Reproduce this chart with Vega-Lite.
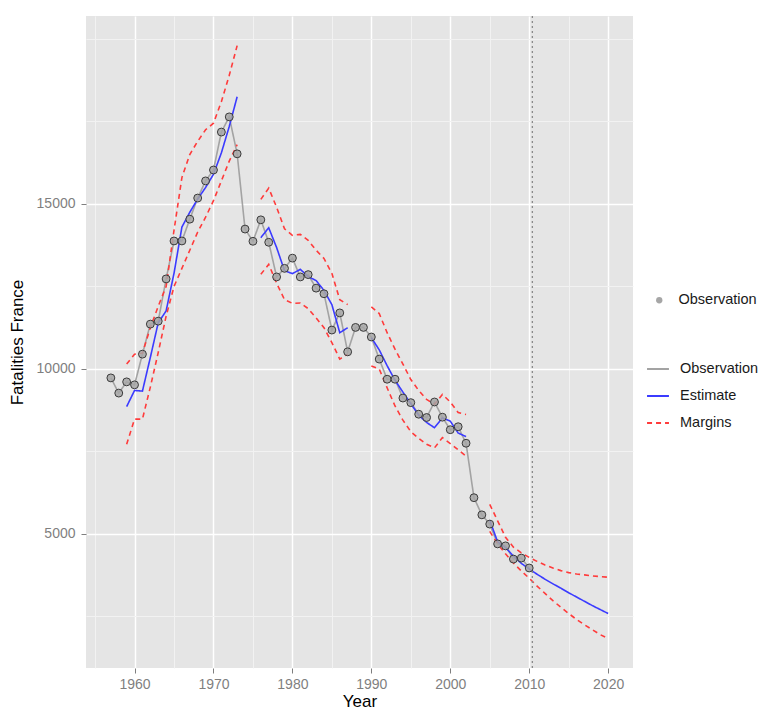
{
  "$schema": "https://vega.github.io/schema/vega-lite/v6.json",
  "width": 547,
  "height": 652,
  "padding": {"left": 8, "top": 15, "right": 0, "bottom": 0},
  "background": "white",
  "config": {
    "view": {"fill": "#E5E5E5", "stroke": null},
    "font": "Liberation Sans",
    "axis": {
      "domain": false,
      "grid": true,
      "tickColor": "#7F7F7F",
      "tickSize": 5,
      "labelColor": "#7F7F7F",
      "labelFont": "Liberation Sans",
      "labelFontSize": 14,
      "titleFont": "Liberation Sans",
      "titleFontSize": 17,
      "titleFontWeight": "normal",
      "titleColor": "black",
      "gridColor": "white",
      "gridWidth": 1.5
    },
    "legend": {
      "labelFont": "Liberation Sans",
      "labelFontSize": 14.5,
      "labelColor": "#1A1A1A"
    }
  },
  "datasets": {
    "d": [
      {"year": 1957, "value": 9730, "series": "Observation", "grp": "obs"},
      {"year": 1958, "value": 9270, "series": "Observation", "grp": "obs"},
      {"year": 1959, "value": 9610, "series": "Observation", "grp": "obs"},
      {"year": 1960, "value": 9520, "series": "Observation", "grp": "obs"},
      {"year": 1961, "value": 10450, "series": "Observation", "grp": "obs"},
      {"year": 1962, "value": 11360, "series": "Observation", "grp": "obs"},
      {"year": 1963, "value": 11450, "series": "Observation", "grp": "obs"},
      {"year": 1964, "value": 12730, "series": "Observation", "grp": "obs"},
      {"year": 1965, "value": 13880, "series": "Observation", "grp": "obs"},
      {"year": 1966, "value": 13880, "series": "Observation", "grp": "obs"},
      {"year": 1967, "value": 14540, "series": "Observation", "grp": "obs"},
      {"year": 1968, "value": 15180, "series": "Observation", "grp": "obs"},
      {"year": 1969, "value": 15700, "series": "Observation", "grp": "obs"},
      {"year": 1970, "value": 16030, "series": "Observation", "grp": "obs"},
      {"year": 1971, "value": 17180, "series": "Observation", "grp": "obs"},
      {"year": 1972, "value": 17640, "series": "Observation", "grp": "obs"},
      {"year": 1973, "value": 16520, "series": "Observation", "grp": "obs"},
      {"year": 1974, "value": 14240, "series": "Observation", "grp": "obs"},
      {"year": 1975, "value": 13870, "series": "Observation", "grp": "obs"},
      {"year": 1976, "value": 14520, "series": "Observation", "grp": "obs"},
      {"year": 1977, "value": 13840, "series": "Observation", "grp": "obs"},
      {"year": 1978, "value": 12790, "series": "Observation", "grp": "obs"},
      {"year": 1979, "value": 13050, "series": "Observation", "grp": "obs"},
      {"year": 1980, "value": 13360, "series": "Observation", "grp": "obs"},
      {"year": 1981, "value": 12790, "series": "Observation", "grp": "obs"},
      {"year": 1982, "value": 12860, "series": "Observation", "grp": "obs"},
      {"year": 1983, "value": 12450, "series": "Observation", "grp": "obs"},
      {"year": 1984, "value": 12280, "series": "Observation", "grp": "obs"},
      {"year": 1985, "value": 11180, "series": "Observation", "grp": "obs"},
      {"year": 1986, "value": 11700, "series": "Observation", "grp": "obs"},
      {"year": 1987, "value": 10520, "series": "Observation", "grp": "obs"},
      {"year": 1988, "value": 11260, "series": "Observation", "grp": "obs"},
      {"year": 1989, "value": 11260, "series": "Observation", "grp": "obs"},
      {"year": 1990, "value": 10970, "series": "Observation", "grp": "obs"},
      {"year": 1991, "value": 10300, "series": "Observation", "grp": "obs"},
      {"year": 1992, "value": 9690, "series": "Observation", "grp": "obs"},
      {"year": 1993, "value": 9690, "series": "Observation", "grp": "obs"},
      {"year": 1994, "value": 9120, "series": "Observation", "grp": "obs"},
      {"year": 1995, "value": 8980, "series": "Observation", "grp": "obs"},
      {"year": 1996, "value": 8630, "series": "Observation", "grp": "obs"},
      {"year": 1997, "value": 8530, "series": "Observation", "grp": "obs"},
      {"year": 1998, "value": 9000, "series": "Observation", "grp": "obs"},
      {"year": 1999, "value": 8540, "series": "Observation", "grp": "obs"},
      {"year": 2000, "value": 8160, "series": "Observation", "grp": "obs"},
      {"year": 2001, "value": 8250, "series": "Observation", "grp": "obs"},
      {"year": 2002, "value": 7750, "series": "Observation", "grp": "obs"},
      {"year": 2003, "value": 6100, "series": "Observation", "grp": "obs"},
      {"year": 2004, "value": 5580, "series": "Observation", "grp": "obs"},
      {"year": 2005, "value": 5300, "series": "Observation", "grp": "obs"},
      {"year": 2006, "value": 4700, "series": "Observation", "grp": "obs"},
      {"year": 2007, "value": 4640, "series": "Observation", "grp": "obs"},
      {"year": 2008, "value": 4240, "series": "Observation", "grp": "obs"},
      {"year": 2009, "value": 4270, "series": "Observation", "grp": "obs"},
      {"year": 2010, "value": 3970, "series": "Observation", "grp": "obs"},

      {"year": 1959, "value": 8860, "series": "Estimate", "grp": "E1"},
      {"year": 1960, "value": 9350, "series": "Estimate", "grp": "E1"},
      {"year": 1961, "value": 9330, "series": "Estimate", "grp": "E1"},
      {"year": 1962, "value": 10350, "series": "Estimate", "grp": "E1"},
      {"year": 1963, "value": 11400, "series": "Estimate", "grp": "E1"},
      {"year": 1964, "value": 11760, "series": "Estimate", "grp": "E1"},
      {"year": 1965, "value": 12900, "series": "Estimate", "grp": "E1"},
      {"year": 1966, "value": 14300, "series": "Estimate", "grp": "E1"},
      {"year": 1967, "value": 14750, "series": "Estimate", "grp": "E1"},
      {"year": 1968, "value": 15150, "series": "Estimate", "grp": "E1"},
      {"year": 1969, "value": 15500, "series": "Estimate", "grp": "E1"},
      {"year": 1970, "value": 15900, "series": "Estimate", "grp": "E1"},
      {"year": 1971, "value": 16550, "series": "Estimate", "grp": "E1"},
      {"year": 1972, "value": 17350, "series": "Estimate", "grp": "E1"},
      {"year": 1973, "value": 18250, "series": "Estimate", "grp": "E1"},

      {"year": 1976, "value": 13980, "series": "Estimate", "grp": "E2"},
      {"year": 1977, "value": 14280, "series": "Estimate", "grp": "E2"},
      {"year": 1978, "value": 13680, "series": "Estimate", "grp": "E2"},
      {"year": 1979, "value": 12980, "series": "Estimate", "grp": "E2"},
      {"year": 1980, "value": 12890, "series": "Estimate", "grp": "E2"},
      {"year": 1981, "value": 13020, "series": "Estimate", "grp": "E2"},
      {"year": 1982, "value": 12800, "series": "Estimate", "grp": "E2"},
      {"year": 1983, "value": 12680, "series": "Estimate", "grp": "E2"},
      {"year": 1984, "value": 12380, "series": "Estimate", "grp": "E2"},
      {"year": 1985, "value": 11950, "series": "Estimate", "grp": "E2"},
      {"year": 1986, "value": 11100, "series": "Estimate", "grp": "E2"},
      {"year": 1987, "value": 11250, "series": "Estimate", "grp": "E2"},

      {"year": 1990, "value": 10950, "series": "Estimate", "grp": "E3"},
      {"year": 1991, "value": 10580, "series": "Estimate", "grp": "E3"},
      {"year": 1992, "value": 10100, "series": "Estimate", "grp": "E3"},
      {"year": 1993, "value": 9660, "series": "Estimate", "grp": "E3"},
      {"year": 1994, "value": 9300, "series": "Estimate", "grp": "E3"},
      {"year": 1995, "value": 8950, "series": "Estimate", "grp": "E3"},
      {"year": 1996, "value": 8600, "series": "Estimate", "grp": "E3"},
      {"year": 1997, "value": 8380, "series": "Estimate", "grp": "E3"},
      {"year": 1998, "value": 8220, "series": "Estimate", "grp": "E3"},
      {"year": 1999, "value": 8520, "series": "Estimate", "grp": "E3"},
      {"year": 2000, "value": 8420, "series": "Estimate", "grp": "E3"},
      {"year": 2001, "value": 8060, "series": "Estimate", "grp": "E3"},
      {"year": 2002, "value": 7950, "series": "Estimate", "grp": "E3"},

      {"year": 2005, "value": 5420, "series": "Estimate", "grp": "E4"},
      {"year": 2006, "value": 4760, "series": "Estimate", "grp": "E4"},
      {"year": 2007, "value": 4590, "series": "Estimate", "grp": "E4"},
      {"year": 2008, "value": 4330, "series": "Estimate", "grp": "E4"},
      {"year": 2009, "value": 4110, "series": "Estimate", "grp": "E4"},
      {"year": 2010, "value": 3940, "series": "Estimate", "grp": "E4"},
      {"year": 2011, "value": 3780, "series": "Estimate", "grp": "E4"},
      {"year": 2012, "value": 3630, "series": "Estimate", "grp": "E4"},
      {"year": 2013, "value": 3490, "series": "Estimate", "grp": "E4"},
      {"year": 2014, "value": 3360, "series": "Estimate", "grp": "E4"},
      {"year": 2015, "value": 3220, "series": "Estimate", "grp": "E4"},
      {"year": 2016, "value": 3090, "series": "Estimate", "grp": "E4"},
      {"year": 2017, "value": 2960, "series": "Estimate", "grp": "E4"},
      {"year": 2018, "value": 2830, "series": "Estimate", "grp": "E4"},
      {"year": 2019, "value": 2710, "series": "Estimate", "grp": "E4"},
      {"year": 2020, "value": 2590, "series": "Estimate", "grp": "E4"},

      {"year": 1959, "value": 10150, "series": "Margins", "grp": "U1"},
      {"year": 1960, "value": 10450, "series": "Margins", "grp": "U1"},
      {"year": 1961, "value": 10480, "series": "Margins", "grp": "U1"},
      {"year": 1962, "value": 11250, "series": "Margins", "grp": "U1"},
      {"year": 1963, "value": 11900, "series": "Margins", "grp": "U1"},
      {"year": 1964, "value": 12500, "series": "Margins", "grp": "U1"},
      {"year": 1965, "value": 14200, "series": "Margins", "grp": "U1"},
      {"year": 1966, "value": 15800, "series": "Margins", "grp": "U1"},
      {"year": 1967, "value": 16500, "series": "Margins", "grp": "U1"},
      {"year": 1968, "value": 16900, "series": "Margins", "grp": "U1"},
      {"year": 1969, "value": 17250, "series": "Margins", "grp": "U1"},
      {"year": 1970, "value": 17450, "series": "Margins", "grp": "U1"},
      {"year": 1971, "value": 18100, "series": "Margins", "grp": "U1"},
      {"year": 1972, "value": 18900, "series": "Margins", "grp": "U1"},
      {"year": 1973, "value": 19800, "series": "Margins", "grp": "U1"},

      {"year": 1959, "value": 7720, "series": "Margins", "grp": "L1"},
      {"year": 1960, "value": 8480, "series": "Margins", "grp": "L1"},
      {"year": 1961, "value": 8480, "series": "Margins", "grp": "L1"},
      {"year": 1962, "value": 9450, "series": "Margins", "grp": "L1"},
      {"year": 1963, "value": 10500, "series": "Margins", "grp": "L1"},
      {"year": 1964, "value": 11600, "series": "Margins", "grp": "L1"},
      {"year": 1965, "value": 12500, "series": "Margins", "grp": "L1"},
      {"year": 1966, "value": 13050, "series": "Margins", "grp": "L1"},
      {"year": 1967, "value": 13600, "series": "Margins", "grp": "L1"},
      {"year": 1968, "value": 14150, "series": "Margins", "grp": "L1"},
      {"year": 1969, "value": 14600, "series": "Margins", "grp": "L1"},
      {"year": 1970, "value": 15100, "series": "Margins", "grp": "L1"},
      {"year": 1971, "value": 15700, "series": "Margins", "grp": "L1"},
      {"year": 1972, "value": 16300, "series": "Margins", "grp": "L1"},
      {"year": 1973, "value": 16800, "series": "Margins", "grp": "L1"},

      {"year": 1976, "value": 15140, "series": "Margins", "grp": "U2"},
      {"year": 1977, "value": 15480, "series": "Margins", "grp": "U2"},
      {"year": 1978, "value": 14900, "series": "Margins", "grp": "U2"},
      {"year": 1979, "value": 14250, "series": "Margins", "grp": "U2"},
      {"year": 1980, "value": 14050, "series": "Margins", "grp": "U2"},
      {"year": 1981, "value": 14080, "series": "Margins", "grp": "U2"},
      {"year": 1982, "value": 13900, "series": "Margins", "grp": "U2"},
      {"year": 1983, "value": 13600, "series": "Margins", "grp": "U2"},
      {"year": 1984, "value": 13350, "series": "Margins", "grp": "U2"},
      {"year": 1985, "value": 12900, "series": "Margins", "grp": "U2"},
      {"year": 1986, "value": 12100, "series": "Margins", "grp": "U2"},
      {"year": 1987, "value": 11950, "series": "Margins", "grp": "U2"},

      {"year": 1976, "value": 12870, "series": "Margins", "grp": "L2"},
      {"year": 1977, "value": 13170, "series": "Margins", "grp": "L2"},
      {"year": 1978, "value": 12600, "series": "Margins", "grp": "L2"},
      {"year": 1979, "value": 12100, "series": "Margins", "grp": "L2"},
      {"year": 1980, "value": 11990, "series": "Margins", "grp": "L2"},
      {"year": 1981, "value": 12000, "series": "Margins", "grp": "L2"},
      {"year": 1982, "value": 11830, "series": "Margins", "grp": "L2"},
      {"year": 1983, "value": 11550, "series": "Margins", "grp": "L2"},
      {"year": 1984, "value": 11250, "series": "Margins", "grp": "L2"},
      {"year": 1985, "value": 10800, "series": "Margins", "grp": "L2"},
      {"year": 1986, "value": 10300, "series": "Margins", "grp": "L2"},
      {"year": 1987, "value": 10450, "series": "Margins", "grp": "L2"},

      {"year": 1990, "value": 11880, "series": "Margins", "grp": "U3"},
      {"year": 1991, "value": 11680, "series": "Margins", "grp": "U3"},
      {"year": 1992, "value": 11100, "series": "Margins", "grp": "U3"},
      {"year": 1993, "value": 10600, "series": "Margins", "grp": "U3"},
      {"year": 1994, "value": 10150, "series": "Margins", "grp": "U3"},
      {"year": 1995, "value": 9680, "series": "Margins", "grp": "U3"},
      {"year": 1996, "value": 9350, "series": "Margins", "grp": "U3"},
      {"year": 1997, "value": 9080, "series": "Margins", "grp": "U3"},
      {"year": 1998, "value": 8930, "series": "Margins", "grp": "U3"},
      {"year": 1999, "value": 9230, "series": "Margins", "grp": "U3"},
      {"year": 2000, "value": 9000, "series": "Margins", "grp": "U3"},
      {"year": 2001, "value": 8680, "series": "Margins", "grp": "U3"},
      {"year": 2002, "value": 8620, "series": "Margins", "grp": "U3"},

      {"year": 1990, "value": 10090, "series": "Margins", "grp": "L3"},
      {"year": 1991, "value": 10000, "series": "Margins", "grp": "L3"},
      {"year": 1992, "value": 9430, "series": "Margins", "grp": "L3"},
      {"year": 1993, "value": 8880, "series": "Margins", "grp": "L3"},
      {"year": 1994, "value": 8450, "series": "Margins", "grp": "L3"},
      {"year": 1995, "value": 8100, "series": "Margins", "grp": "L3"},
      {"year": 1996, "value": 7900, "series": "Margins", "grp": "L3"},
      {"year": 1997, "value": 7720, "series": "Margins", "grp": "L3"},
      {"year": 1998, "value": 7610, "series": "Margins", "grp": "L3"},
      {"year": 1999, "value": 7920, "series": "Margins", "grp": "L3"},
      {"year": 2000, "value": 7740, "series": "Margins", "grp": "L3"},
      {"year": 2001, "value": 7550, "series": "Margins", "grp": "L3"},
      {"year": 2002, "value": 7360, "series": "Margins", "grp": "L3"},

      {"year": 2005, "value": 5900, "series": "Margins", "grp": "U4"},
      {"year": 2006, "value": 5400, "series": "Margins", "grp": "U4"},
      {"year": 2007, "value": 4900, "series": "Margins", "grp": "U4"},
      {"year": 2008, "value": 4600, "series": "Margins", "grp": "U4"},
      {"year": 2009, "value": 4430, "series": "Margins", "grp": "U4"},
      {"year": 2010, "value": 4290, "series": "Margins", "grp": "U4"},
      {"year": 2011, "value": 4170, "series": "Margins", "grp": "U4"},
      {"year": 2012, "value": 4060, "series": "Margins", "grp": "U4"},
      {"year": 2013, "value": 3970, "series": "Margins", "grp": "U4"},
      {"year": 2014, "value": 3890, "series": "Margins", "grp": "U4"},
      {"year": 2015, "value": 3830, "series": "Margins", "grp": "U4"},
      {"year": 2016, "value": 3790, "series": "Margins", "grp": "U4"},
      {"year": 2017, "value": 3760, "series": "Margins", "grp": "U4"},
      {"year": 2018, "value": 3730, "series": "Margins", "grp": "U4"},
      {"year": 2019, "value": 3710, "series": "Margins", "grp": "U4"},
      {"year": 2020, "value": 3690, "series": "Margins", "grp": "U4"},

      {"year": 2005, "value": 5080, "series": "Margins", "grp": "L4"},
      {"year": 2006, "value": 4700, "series": "Margins", "grp": "L4"},
      {"year": 2007, "value": 4400, "series": "Margins", "grp": "L4"},
      {"year": 2008, "value": 4120, "series": "Margins", "grp": "L4"},
      {"year": 2009, "value": 3880, "series": "Margins", "grp": "L4"},
      {"year": 2010, "value": 3660, "series": "Margins", "grp": "L4"},
      {"year": 2011, "value": 3420, "series": "Margins", "grp": "L4"},
      {"year": 2012, "value": 3200, "series": "Margins", "grp": "L4"},
      {"year": 2013, "value": 2980, "series": "Margins", "grp": "L4"},
      {"year": 2014, "value": 2780, "series": "Margins", "grp": "L4"},
      {"year": 2015, "value": 2590, "series": "Margins", "grp": "L4"},
      {"year": 2016, "value": 2410, "series": "Margins", "grp": "L4"},
      {"year": 2017, "value": 2250, "series": "Margins", "grp": "L4"},
      {"year": 2018, "value": 2100, "series": "Margins", "grp": "L4"},
      {"year": 2019, "value": 1950, "series": "Margins", "grp": "L4"},
      {"year": 2020, "value": 1830, "series": "Margins", "grp": "L4"}
    ]
  },
  "resolve": {"axis": {"x": "independent", "y": "independent"}},
  "layer": [
    {
      "data": {"name": "d"},
      "transform": [{"filter": "datum.series === 'Observation'"}],
      "mark": {"type": "point", "opacity": 0},
      "encoding": {
        "x": {"field": "year", "type": "quantitative",
              "scale": {"domain": [1953.85, 2023.15], "nice": false, "zero": false},
              "axis": {"orient": "top", "values": [1955, 1965, 1975, 1985, 1995, 2005, 2015], "grid": true, "labels": false, "ticks": false, "domain": false, "title": null, "gridColor": "#F2F2F2", "gridWidth": 1}},
        "y": {"field": "value", "type": "quantitative",
              "scale": {"domain": [939, 20697], "nice": false, "zero": false},
              "axis": {"orient": "right", "values": [2500, 7500, 12500, 17500, 20000], "grid": true, "labels": false, "ticks": false, "domain": false, "title": null, "gridColor": "#F2F2F2", "gridWidth": 1}}
      }
    },
    {
      "data": {"name": "d"},
      "mark": {"type": "line", "strokeWidth": 1.6},
      "encoding": {
        "x": {"field": "year", "type": "quantitative",
              "scale": {"domain": [1953.85, 2023.15], "nice": false, "zero": false},
              "axis": {"orient": "bottom", "grid": true, "values": [1960, 1970, 1980, 1990, 2000, 2010, 2020], "format": "d", "title": "Year", "labelPadding": 4, "titlePadding": 2, "labelFlush": false}},
        "y": {"field": "value", "type": "quantitative",
              "scale": {"domain": [939, 20697], "nice": false, "zero": false},
              "axis": {"orient": "left", "grid": true, "values": [5000, 10000, 15000], "format": "d", "title": "Fatalities France", "labelPadding": 6, "titlePadding": 10}},
        "color": {"field": "series", "type": "nominal",
                  "scale": {"domain": ["Observation", "Estimate", "Margins"], "range": ["#A3A3A3", "#3B3BFF", "#FF3B3B"]},
                  "legend": {"orient": "none", "legendX": 560, "legendY": 341, "title": null, "symbolType": "stroke", "symbolSize": 480, "symbolStrokeWidth": 1.8, "labelOffset": 10, "rowPadding": 8, "padding": 0}},
        "strokeDash": {"field": "series", "type": "nominal",
                  "scale": {"domain": ["Observation", "Estimate", "Margins"], "range": [[1, 0], [1, 0], [5, 4]]},
                  "legend": {"orient": "none", "legendX": 560, "legendY": 341, "title": null, "symbolType": "stroke", "symbolSize": 480, "symbolStrokeWidth": 1.8, "labelOffset": 10, "rowPadding": 8, "padding": 0}},
        "detail": {"field": "grp", "type": "nominal"}
      }
    },
    {
      "data": {"values": [{"year": 2010.4}]},
      "mark": {"type": "rule", "color": "#8A8A8A", "strokeDash": [2, 3], "strokeWidth": 1.3},
      "encoding": {
        "x": {"field": "year", "type": "quantitative", "axis": null,
              "scale": {"domain": [1953.85, 2023.15], "nice": false, "zero": false}}
      }
    },
    {
      "data": {"name": "d"},
      "transform": [{"filter": "datum.series === 'Observation'"}],
      "mark": {"type": "point", "filled": true, "fill": "#A6A6A6", "fillOpacity": 0.85, "stroke": "#3A3A3A", "strokeWidth": 1, "size": 62},
      "encoding": {
        "x": {"field": "year", "type": "quantitative", "axis": null,
              "scale": {"domain": [1953.85, 2023.15], "nice": false, "zero": false}},
        "y": {"field": "value", "type": "quantitative", "axis": null,
              "scale": {"domain": [939, 20697], "nice": false, "zero": false}},
        "shape": {"field": "series", "type": "nominal",
                  "scale": {"domain": ["Observation"], "range": ["circle"]},
                  "legend": {"orient": "none", "legendX": 566, "legendY": 277, "title": null, "symbolFillColor": "#A6A6A6", "symbolStrokeColor": "#3A3A3A", "symbolSize": 40, "symbolStrokeWidth": 1, "labelOffset": 12, "padding": 0}}
      }
    }
  ]
}
